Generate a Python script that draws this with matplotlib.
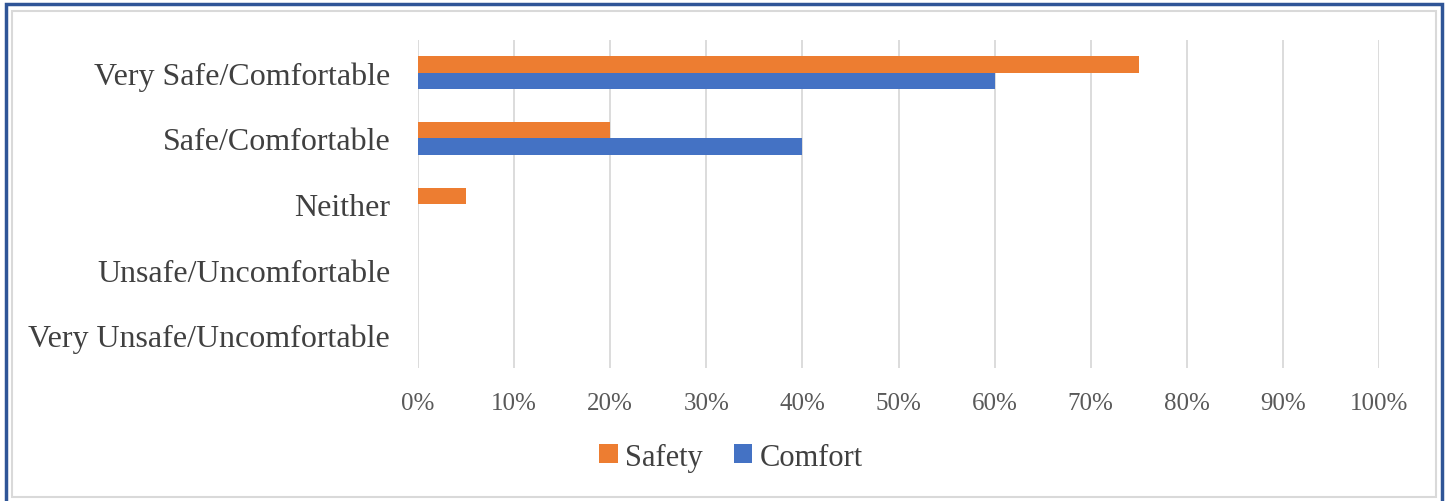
import matplotlib.pyplot as plt
from matplotlib.patches import Rectangle
from matplotlib.ticker import PercentFormatter
import numpy as np

# Data (percent of respondents)
categories = ['Very Unsafe/Uncomfortable', 'Unsafe/Uncomfortable', 'Neither',
              'Safe/Comfortable', 'Very Safe/Comfortable']
safety = [0, 0, 5, 20, 75]
comfort = [0, 0, 0, 40, 60]

plt.rcParams['font.family'] = ['Liberation Serif', 'DejaVu Serif']

fig = plt.figure(figsize=(14.47, 5.02), dpi=100)
ax = fig.add_axes([418 / 1447, 1 - 369 / 502, (1379 - 418) / 1447, 328 / 502])

y = np.arange(len(categories))
h = 0.25
ax.barh(y + h / 2, safety, height=h, color='#ED7D31', label='Safety', zorder=3)
ax.barh(y - h / 2, comfort, height=h, color='#4472C4', label='Comfort', zorder=3)

ax.set_xlim(0, 100)
ax.set_ylim(-0.5, len(categories) - 0.5)
ax.set_xticks(np.arange(0, 101, 10))
ax.xaxis.set_major_formatter(PercentFormatter(decimals=0))
ax.set_yticks(y)
ax.set_yticklabels(categories)
ax.tick_params(axis='y', length=0, pad=20, labelsize=23, labelcolor='#404040')
ax.tick_params(axis='x', length=0, pad=17, labelsize=18, labelcolor='#595959')
ax.grid(axis='x', color='#D9D9D9', linewidth=1.3, zorder=0)
for s in ax.spines.values():
    s.set_visible(False)

handles, labels = ax.get_legend_handles_labels()
fig.legend(handles, labels, loc='center', bbox_to_anchor=(731 / 1447, 1 - 458 / 502),
           ncol=2, frameon=False, fontsize=22, handlelength=0.6, handleheight=0.6,
           handletextpad=0.25, columnspacing=1.0, labelcolor='#404040')

# frame around the chart
fig.patches.append(Rectangle((12 / 1447, 4 / 502), 1424 / 1447, 486 / 502,
                             transform=fig.transFigure, fill=False,
                             edgecolor='#D9D9D9', linewidth=1.5))
fig.patches.append(Rectangle((6 / 1447, -0.02), 1436 / 1447, 1 - 5 / 502 + 0.02,
                             transform=fig.transFigure, fill=False,
                             edgecolor='#2F5597', linewidth=2.5))

fig.savefig('out.png', dpi=100)
